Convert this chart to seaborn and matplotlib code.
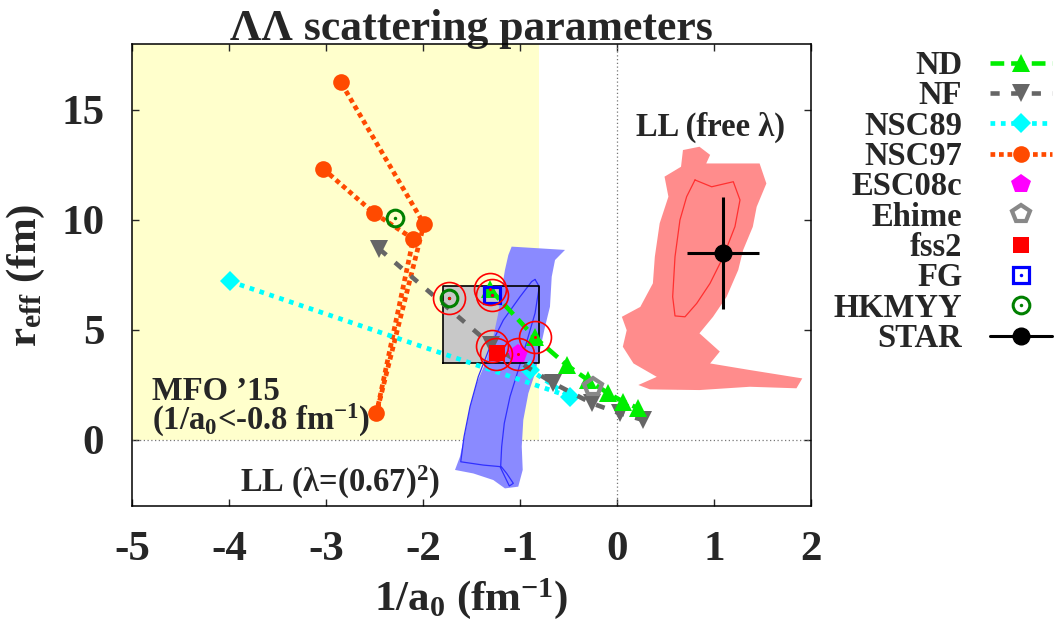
import matplotlib
matplotlib.use("Agg")
import matplotlib.pyplot as plt
import seaborn as sns
from matplotlib.lines import Line2D
from matplotlib.legend_handler import HandlerTuple

# ---------------- data ----------------
nd_x = [-1.31, -0.85, -0.52, -0.30, -0.09, 0.065, 0.22]
nd_y = [6.86, 4.67, 3.41, 2.73, 2.12, 1.74, 1.44]
nf_x = [-2.45, -1.30, -0.655, -0.26, 0.03, 0.27]
nf_y = [8.68, 4.33, 2.58, 1.67, 1.21, 0.91]
nsc89_x = [-3.99, -0.48, -0.895]
nsc89_y = [7.21, 1.96, 3.18]
nsc97_x = [-3.03, -2.51, -2.10, -2.48, -1.99, -2.85]
nsc97_y = [12.33, 10.33, 9.14, 1.21, 9.82, 16.28]
esc08c_x, esc08c_y = [-1.025], [3.90]
ehime_x, ehime_y = [-0.244], [2.42]
fss2_x, fss2_y = [-1.237], [3.97]
fg_x, fg_y = [-1.29], [6.59]
hkmyy_x, hkmyy_y = [-1.734, -2.29], [6.46, 10.09]
star_x, star_y = [1.096], [8.51]
star_xerr, star_yerr = [0.37], [2.55]
ring_x = [-1.734, -1.306, -1.289, -1.289, -1.244, -1.025, -0.847]
ring_y = [6.46, 6.85, 6.59, 4.27, 3.93, 3.89, 4.67]

# MFO'15 allowed region and box
mfo_xmax = -0.8
box_x = [-1.79, -0.80]
box_y = [3.5, 7.0]

# LL fit with lambda=(0.67)^2 : sample cloud outline and contour
blue_cloud_x = [-1.086, -0.794, -0.536, -0.639, -0.673, -0.691, -0.742, -0.794, -0.845,
                -0.914, -0.966, -0.982, -0.972, -1.018, -1.155, -1.275, -1.481, -1.670,
                -1.619, -1.567, -1.515, -1.447, -1.343, -1.275, -1.224, -1.189, -1.155, -1.120]
blue_cloud_y = [8.79, 8.71, 8.64, 8.18, 7.42, 6.06, 5.15, 4.09, 3.03,
                2.12, 0.91, -0.30, -1.36, -2.12, -2.20, -1.82, -1.52, -1.36,
                -0.76, 0.30, 1.52, 2.58, 3.64, 4.70, 5.76, 6.82, 7.73, 8.41]
blue_cont_x = [-0.845, -0.801, -0.845, -0.925, -1.018, -1.103, -1.162, -1.189, -1.199,
               -1.137, -1.069, -1.110, -1.206, -1.378, -1.611, -1.577, -1.515, -1.430,
               -1.309, -1.172, -1.000, -0.880, -0.845]
blue_cont_y = [7.30, 6.97, 5.76, 4.55, 3.18, 1.97, 0.76, -0.30, -1.18,
               -1.52, -1.97, -2.09, -1.21, -1.14, -0.99, 0.15, 1.52, 2.88,
               4.24, 5.45, 6.51, 7.20, 7.30]

# LL fit with free lambda
red_cloud_x = [1.47, 1.54, 1.44, 1.40, 1.30, 1.25, 1.13, 0.99, 0.85, 1.06, 0.96, 1.37,
               1.91, 1.85, 1.37, 0.85, 0.34, 0.22, 0.41, 0.17, 0.06, 0.10, 0.05, 0.24,
               0.37, 0.39, 0.44, 0.53, 0.49, 0.66, 0.68, 0.85, 0.96, 0.92]
red_cloud_y = [12.57, 11.66, 10.60, 9.69, 8.63, 7.73, 6.51, 5.60, 4.85, 4.02, 3.48, 3.18,
               2.80, 2.35, 2.42, 2.27, 2.30, 2.50, 2.87, 3.48, 4.24, 4.99, 5.60, 6.05,
               7.12, 8.33, 9.85, 11.06, 11.97, 12.42, 13.18, 13.33, 12.96, 12.57]
red_cont_x = [0.804, 0.976, 1.199, 1.268, 1.216, 1.096, 0.959, 0.822, 0.701, 0.598,
              0.574, 0.598, 0.649, 0.718, 0.804]
red_cont_y = [11.82, 11.51, 11.74, 10.91, 9.70, 8.33, 7.12, 6.21, 5.60, 5.64,
              6.51, 8.33, 10.0, 11.06, 11.82]

x_ticks = [-5, -4, -3, -2, -1, 0, 1, 2]
y_ticks = [0, 5, 10, 15]
labels = ["ND", "NF", "NSC89", "NSC97", "ESC08c", "Ehime", "fss2", "FG", "HKMYY", "STAR"]

# ---------------- style ----------------
sns.set_style("ticks")
plt.rcParams["font.family"] = ["Liberation Serif", "DejaVu Serif"]
plt.rcParams["font.weight"] = "bold"
plt.rcParams["axes.labelweight"] = "bold"
plt.rcParams["axes.titleweight"] = "bold"
plt.rcParams["mathtext.default"] = "regular"
plt.rcParams["axes.unicode_minus"] = False

C_ND = "#00ee00"
C_NF = "#666666"
C_89 = "#00ffff"
C_97 = "#ff4a00"
C_ESC = "#ff00ff"
C_EH = "#888888"
C_FSS = "#ff0000"
C_FG = "#0000ff"
C_HK = "#008000"

fig = plt.figure(figsize=(10.55, 6.39), dpi=100)
ax = fig.add_axes([132 / 1055, 1 - 506 / 639, (811 - 132) / 1055, (506 - 44) / 639])
ax.set_xlim(-5, 2)
ax.set_ylim(-3, 18)

# background regions
ax.fill_between([-5, mfo_xmax], 0, 18, color="#ffffcc", lw=0, zorder=0.5)
ax.fill_between(box_x, box_y[0], box_y[1], color="#c8c8c8", lw=0, zorder=1)
ax.axhline(0, color="#777777", ls=(0, (1, 2)), lw=0.9, zorder=1.2)
ax.axvline(0, color="#777777", ls=(0, (1, 2)), lw=0.9, zorder=1.2)

# clouds
ax.fill(blue_cloud_x, blue_cloud_y, color="#8a8aff", lw=0, zorder=2)
ax.fill(red_cloud_x, red_cloud_y, color="#ff8c8c", lw=0, zorder=2)
ax.plot(blue_cont_x, blue_cont_y, color="#3030ff", lw=0.9, zorder=2.5)
ax.plot(red_cont_x, red_cont_y, color="#ff3030", lw=0.9, zorder=2.5)
ax.plot([box_x[0], box_x[1], box_x[1], box_x[0], box_x[0]],
        [box_y[0], box_y[0], box_y[1], box_y[1], box_y[0]], color="black", lw=1.2, zorder=2.6)

# model series
common = dict(sort=False, estimator=None, ax=ax, legend=False)
sns.lineplot(x=nsc97_x, y=nsc97_y, color=C_97, linestyle=(0, (1, 0.8)), linewidth=3.4,
             marker="o", markersize=12, markeredgecolor=C_97, markeredgewidth=0, zorder=3, **common)
sns.lineplot(x=nsc89_x, y=nsc89_y, color=C_89, linestyle=(0, (1, 1.2)), linewidth=3.4,
             marker="D", markersize=10, markeredgecolor=C_89, markeredgewidth=0, zorder=3.1, **common)
sns.lineplot(x=nf_x, y=nf_y, color=C_NF, linestyle=(0, (2, 2.5)), linewidth=3.3,
             marker="v", markersize=13, markeredgecolor=C_NF, markeredgewidth=0, zorder=3.2, **common)
sns.lineplot(x=nd_x, y=nd_y, color=C_ND, linestyle=(0, (3, 1.5)), linewidth=3.3,
             marker="^", markersize=13, markeredgecolor=C_ND, markeredgewidth=0, zorder=3.3, **common)

pts = dict(sort=False, estimator=None, ax=ax, legend=False, linestyle="none")
sns.lineplot(x=ehime_x, y=ehime_y, color=C_EH, marker="p", markersize=13, markerfacecolor="none",
             markeredgecolor=C_EH, markeredgewidth=3, zorder=4, **pts)
sns.lineplot(x=hkmyy_x, y=hkmyy_y, color=C_HK, marker="o", markersize=12, markerfacecolor="none",
             markeredgecolor=C_HK, markeredgewidth=2.2, zorder=4, **pts)
sns.lineplot(x=hkmyy_x, y=hkmyy_y, color=C_HK, marker="o", markersize=2.5,
             markeredgecolor=C_HK, markeredgewidth=0, zorder=4.1, **pts)
sns.lineplot(x=esc08c_x, y=esc08c_y, color=C_ESC, marker="p", markersize=15,
             markeredgecolor=C_ESC, markeredgewidth=0, zorder=4, **pts)
sns.lineplot(x=fss2_x, y=fss2_y, color=C_FSS, marker="s", markersize=12,
             markeredgecolor=C_FSS, markeredgewidth=0, zorder=4.2, **pts)
sns.lineplot(x=fg_x, y=fg_y, color=C_FG, marker="s", markersize=11, markerfacecolor="none",
             markeredgecolor=C_FG, markeredgewidth=2.3, zorder=4.3, **pts)
sns.lineplot(x=fg_x, y=fg_y, color=C_FG, marker="o", markersize=2.5,
             markeredgecolor=C_FG, markeredgewidth=0, zorder=4.4, **pts)

# selection rings
sns.lineplot(x=ring_x, y=ring_y, color="red", marker="o", markersize=23, markerfacecolor="none",
             markeredgecolor="red", markeredgewidth=1.2, zorder=6, **pts)
sns.lineplot(x=ring_x, y=ring_y, color="red", marker="o", markersize=2.2,
             markeredgecolor="red", markeredgewidth=0, zorder=6.1, **pts)

# STAR
ax.errorbar(star_x, star_y, xerr=star_xerr, yerr=star_yerr, fmt="o", color="black",
            ms=12, elinewidth=2.2, capsize=0, zorder=7)

# texts
ax.text(1.73, 14.2, "LL (free λ)", ha="right", va="center", fontsize=23.5, zorder=8)
ax.text(-3.89, -2.35, r"LL (λ=(0.67)$^2$)", ha="left", va="baseline", fontsize=23.5, zorder=8)
ax.text(-4.79, 1.82, "MFO ’15", ha="left", va="baseline", fontsize=23.5, zorder=8)
ax.text(-4.79, 0.45, r"(1/a$_0$<-0.8 fm$^{-1}$)", ha="left", va="baseline", fontsize=23.5, zorder=8)

ax.set_title("ΛΛ scattering parameters", fontsize=31.5, pad=3)
ax.set_xlabel(r"1/a$_0$ (fm$^{-1}$)", fontsize=31, labelpad=5)
ax.set_ylabel(r"r$_{eff}$ (fm)", fontsize=31, labelpad=10)
ax.set_xticks(x_ticks)
ax.set_yticks(y_ticks)
ax.tick_params(direction="in", length=5, width=1, top=True, right=True, labelsize=31)
ax.tick_params(axis="x", pad=18)
ax.tick_params(axis="y", pad=20)
for s in ax.spines.values():
    s.set_linewidth(1.1)
    s.set_color("black")
    s.set_zorder(9)

# legend
h_nd = Line2D([], [], color=C_ND, ls=(0, (3, 1.5)), lw=3.3, marker="^", ms=13, mec=C_ND, mew=0)
h_nf = Line2D([], [], color=C_NF, ls=(0, (2, 2.5)), lw=3.3, marker="v", ms=13, mec=C_NF, mew=0)
h_89 = Line2D([], [], color=C_89, ls=(0, (1, 1.2)), lw=3.4, marker="D", ms=10, mec=C_89, mew=0)
h_97 = Line2D([], [], color=C_97, ls=(0, (1, 0.8)), lw=3.4, marker="o", ms=12, mec=C_97, mew=0)
h_esc = Line2D([], [], ls="none", marker="p", ms=15, color=C_ESC, mew=0)
h_eh = Line2D([], [], ls="none", marker="p", ms=13, mfc="none", mec=C_EH, mew=3)
h_fss = Line2D([], [], ls="none", marker="s", ms=12, color=C_FSS, mew=0)
h_fg = (Line2D([], [], ls="none", marker="s", ms=11, mfc="none", mec=C_FG, mew=2.3),
        Line2D([], [], ls="none", marker="o", ms=2.5, color=C_FG, mew=0))
h_hk = (Line2D([], [], ls="none", marker="o", ms=12, mfc="none", mec=C_HK, mew=2.2),
        Line2D([], [], ls="none", marker="o", ms=2.5, color=C_HK, mew=0))
h_star = Line2D([], [], color="black", lw=2.2, marker="o", ms=12)
handles = [h_nd, h_nf, h_89, h_97, h_esc, h_eh, h_fss, h_fg, h_hk, h_star]
fig.legend(handles, labels, loc="upper right", bbox_to_anchor=(1052 / 1055, 1 - 50 / 639),
           frameon=False, markerfirst=False, fontsize=23.5, handlelength=1.9,
           handletextpad=0.85, labelspacing=-0.02, borderpad=0, borderaxespad=0,
           numpoints=1, handler_map={tuple: HandlerTuple(ndivide=1)})

fig.savefig("out.png", dpi=100)
